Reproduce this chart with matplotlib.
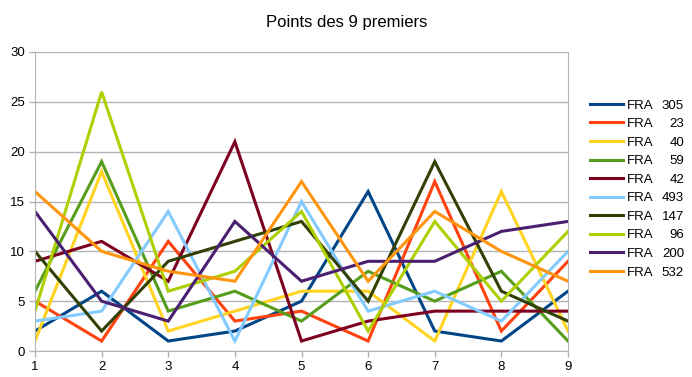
import matplotlib
matplotlib.use("Agg")
import matplotlib.pyplot as plt

plt.rcParams['font.family'] = ['Liberation Sans', 'DejaVu Sans']

# Data
rounds = [1, 2, 3, 4, 5, 6, 7, 8, 9]
players = ["305", "23", "40", "59", "42", "493", "147", "96", "200", "532"]
points = [
    [2, 6, 1, 2, 5, 16, 2, 1, 6],
    [5, 1, 11, 3, 4, 1, 17, 2, 9],
    [1, 18, 2, 4, 6, 6, 1, 16, 2],
    [6, 19, 4, 6, 3, 8, 5, 8, 1],
    [9, 11, 7, 21, 1, 3, 4, 4, 4],
    [3, 4, 14, 1, 15, 4, 6, 3, 10],
    [10, 2, 9, 11, 13, 5, 19, 6, 3],
    [4, 26, 6, 8, 14, 2, 13, 5, 12],
    [14, 5, 3, 13, 7, 9, 9, 12, 13],
    [16, 10, 8, 7, 17, 7, 14, 10, 7],
]
colors = ["#004586", "#ff420e", "#ffd320", "#579d1c", "#7e0021",
          "#83caff", "#314004", "#aecf00", "#4b1f6f", "#ff950e"]

fig = plt.figure(figsize=(6.92, 3.77), dpi=100)
ax = fig.add_axes([35 / 692, 26 / 377, 533 / 692, 299 / 377])

handles = []
for vals, col in zip(points, colors):
    h, = ax.plot(rounds, vals, color=col, linewidth=2.2, solid_joinstyle='miter')
    handles.append(h)

ax.set_xlim(1, 9)
ax.set_ylim(0, 30)
ax.set_xticks(rounds)
ax.set_yticks(range(0, 31, 5))
ax.yaxis.grid(True, color="#b3b3b3", linewidth=1)
ax.set_axisbelow(True)
for side in ["left", "bottom", "right"]:
    ax.spines[side].set_color("#b3b3b3")
ax.spines["top"].set_visible(False)
ax.tick_params(axis='both', colors="#b3b3b3", labelcolor="black", labelsize=9.5,
               length=4, width=1)
ax.tick_params(axis='y', pad=3)

fig.suptitle("Points des 9 premiers", x=347 / 692, y=1 - 22 / 377, va='center', fontsize=12)

leg = fig.legend(handles, ["FRA"] * len(players), loc='upper left',
                 bbox_to_anchor=(585 / 692, 1 - 94 / 377), frameon=False,
                 fontsize=9.5, handlelength=2.5, handletextpad=0.3,
                 labelspacing=0.48, borderaxespad=0)

fig.canvas.draw()
inv = fig.transFigure.inverted()
for txt, num in zip(leg.get_texts(), players):
    bb = txt.get_window_extent()
    ymid = inv.transform((0, (bb.y0 + bb.y1) / 2))[1]
    fig.text(684 / 692, ymid, num, ha='right', va='center', fontsize=9.5)

fig.savefig("out.png", dpi=100)
